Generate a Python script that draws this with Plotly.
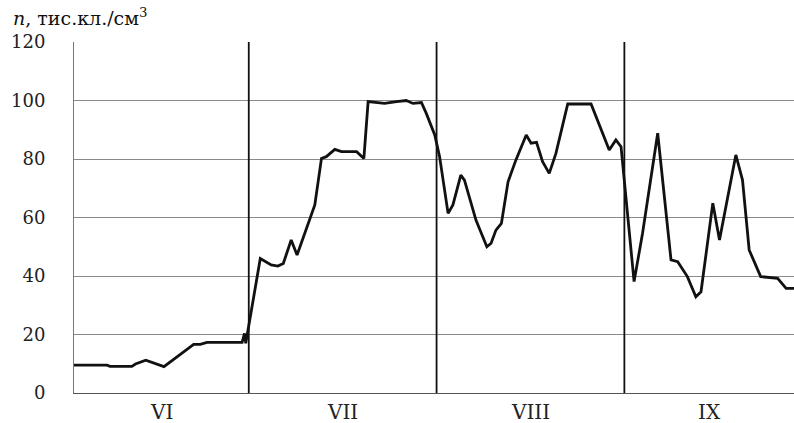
import plotly.graph_objects as go

# day index (June 1 = 1) and concentration, thousand particles / cm^3
days = [2.15, 7.6, 8.1, 11.7, 12.3, 14.0, 17.0, 21.9, 23.0, 24.1, 29.9, 30.3, 30.5,
        32.9, 34.7, 35.8, 36.7, 38.0, 38.97, 41.1, 41.9, 43.0, 43.8, 45.2, 46.3,
        48.8, 49.3, 50.0, 50.7, 51.8, 53.4, 55.4, 57.0, 58.1, 59.5, 60.3, 61.7,
        62.5, 63.9, 64.7, 66.0, 66.6, 68.5, 70.3, 71.0, 71.8, 72.7, 73.8, 75.1,
        76.8, 77.6, 78.5, 79.5, 80.6, 81.7, 83.65, 87.5, 90.5, 91.6, 92.45, 92.9,
        93.3, 94.6, 96.0, 98.5, 100.7, 101.8, 103.4, 104.8, 105.65, 107.6, 108.7,
        111.4, 112.5, 113.6, 115.5, 118.3, 119.7, 121.0]
values = [9.5, 9.5, 9.1, 9.1, 9.9, 11.2, 9.0, 16.6, 16.6, 17.3, 17.3, 20.4, 17.0,
          46.0, 43.8, 43.4, 44.3, 52.3, 47.2, 59.1, 64.3, 80.2, 80.8, 83.3, 82.5,
          82.5, 81.4, 80.2, 99.6, 99.3, 99.0, 99.6, 100.0, 99.0, 99.3, 95.6, 88.2,
          80.8, 61.4, 64.3, 74.5, 72.8, 59.1, 50.0, 51.2, 55.7, 58.0, 72.2, 79.7,
          88.2, 85.4, 85.7, 79.1, 75.1, 81.9, 98.8, 98.8, 83.1, 86.5, 84.2, 74.0,
          66.0, 38.1, 54.6, 88.8, 45.5, 44.9, 39.8, 32.9, 34.6, 64.9, 52.3,
          81.4, 72.8, 48.9, 39.8, 39.2, 35.8, 35.8]

month_labels = ["VI", "VII", "VIII", "IX"]
month_centers = [16.6, 46.5, 77.5, 107.0]
month_starts = [31, 62, 93]
y_ticks = [0, 20, 40, 60, 80, 100, 120]
x_range = [2.15, 121.0]
y_range = [0, 120]

serif = "DejaVu Serif"

fig = go.Figure()
fig.add_trace(go.Scatter(x=days, y=values, mode="lines",
                         line=dict(color="#111111", width=2.8),
                         hoverinfo="skip", showlegend=False))

for s in month_starts:
    fig.add_shape(type="line", xref="x", yref="paper", x0=s, x1=s, y0=0, y1=1,
                  line=dict(color="#111111", width=1.8), layer="above")

annotations = [dict(text="<i>n</i>, тис.кл./см<sup>3</sup>", xref="paper", yref="paper",
                    x=(11 - 74) / 720, y=(393 - 17) / 351, xanchor="left", yanchor="middle",
                    showarrow=False, font=dict(family=serif, size=19, color="#111111"))]
for lab, c in zip(month_labels, month_centers):
    annotations.append(dict(text=lab, xref="x", yref="paper", x=c, y=-19 / 351,
                            xanchor="center", yanchor="middle", showarrow=False,
                            font=dict(family=serif, size=20, color="#222222")))

fig.update_layout(
    width=794, height=423,
    margin=dict(l=74, r=0, t=42, b=30),
    paper_bgcolor="white", plot_bgcolor="white",
    xaxis=dict(range=x_range, showticklabels=False, automargin=False,
               showgrid=False, zeroline=False, showline=True, linecolor="#555555",
               linewidth=1, ticks=""),
    yaxis=dict(range=y_range, tickvals=y_ticks, showgrid=True, gridcolor="#8a8a8a",
               gridwidth=1, zeroline=False, showline=True, linecolor="#777777",
               linewidth=1, ticks="", ticklabelstandoff=24, automargin=False,
               tickfont=dict(family=serif, size=18, color="#222222")),
    annotations=annotations,
)

fig.write_html("out.html", config={"displayModeBar": False},
               post_script="document.body.style.margin='0';document.body.style.overflow='hidden';")
